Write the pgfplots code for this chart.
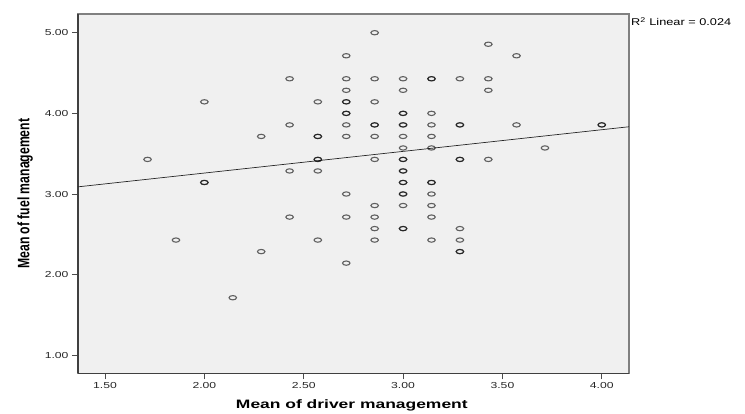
\documentclass[border=0pt]{standalone}
\usepackage{fontspec}
\setmainfont{Liberation Sans}
\newfontfamily\tickfont[FakeStretch=1.4]{Liberation Sans}
\newfontfamily\xlabfont[FakeStretch=1.43]{Liberation Sans}
\newfontfamily\ylabfont[FakeStretch=0.74]{Liberation Sans}
\newfontfamily\rfont[FakeStretch=1.3]{Liberation Sans}
\usepackage{pgfplots}
\pgfplotsset{compat=1.18}
\definecolor{bggray}{HTML}{F0F0F0}
\begin{document}
\begin{tikzpicture}
\useasboundingbox (0,0) rectangle (745pt,413pt);
\begin{axis}[
  at={(78pt,39.7pt)}, anchor=south west,
  scale only axis, width=551pt, height=359.3pt,
  xmin=1.364, xmax=4.137, ymin=0.777, ymax=5.232,
  axis background/.style={fill=bggray, draw=black!50, line width=1.4pt},
  axis x line*=bottom, axis y line*=left,
  axis line style={draw=black!75, line width=1.2pt},
  xtick={1.5,2,2.5,3,3.5,4}, ytick={1,2,3,4,5},
  minor tick num=0,
  tick align=outside, major tick length=6pt,
  tick style={draw=black!70, line width=0.9pt},
  /pgf/number format/assume math mode=true,
  xticklabel={\pgfmathprintnumber[fixed,fixed zerofill,precision=2]{\tick}},
  yticklabel={\pgfmathprintnumber[fixed,fixed zerofill,precision=2]{\tick}},
  xticklabel style={font=\tickfont\fontsize{8.7}{10}\selectfont, text=black!85},
  yticklabel style={font=\tickfont\fontsize{8.7}{10}\selectfont, text=black!85},
  xlabel={Mean of driver management},
  ylabel={Mean of fuel management},
  xlabel style={font=\xlabfont\bfseries\fontsize{12.2}{14}\selectfont, at={(axis description cs:0.497,-0.0724)}, anchor=north, inner sep=0pt},
  ylabel style={font=\ylabfont\bfseries\fontsize{16.5}{18}\selectfont, at={(axis description cs:-0.0817,0.5)}, rotate=0, anchor=south, inner sep=0pt},
  clip=false,
]
\addplot[only marks, mark=o, mark size=2.15pt, mark options={xscale=1.75, draw=black, draw opacity=0.6, line width=1.1pt}] coordinates {
(1.714,3.429)
(1.857,2.429)
(2,4.143)
(2,3.143)(2,3.143)
(2.143,1.714)
(2.286,3.714)(2.286,2.286)
(2.429,4.429)(2.429,3.857)(2.429,3.286)(2.429,2.714)
(2.571,4.143)(2.571,3.714)(2.571,3.714)(2.571,3.429)(2.571,3.429)(2.571,3.286)(2.571,2.429)
(2.714,4.714)(2.714,4.429)(2.714,4.286)(2.714,4.143)(2.714,4.143)(2.714,4)(2.714,4)(2.714,3.857)(2.714,3.714)(2.714,3)(2.714,2.714)(2.714,2.143)
(2.857,5)(2.857,4.429)(2.857,4.143)(2.857,3.857)(2.857,3.857)(2.857,3.714)(2.857,3.429)(2.857,2.857)(2.857,2.714)(2.857,2.571)(2.857,2.429)
(3,4.429)(3,4.286)(3,4)(3,4)(3,3.857)(3,3.857)(3,3.714)(3,3.571)(3,3.429)(3,3.429)(3,3.286)(3,3.286)(3,3.143)(3,3.143)(3,3)(3,3)(3,2.857)(3,2.571)(3,2.571)
(3.143,4.429)(3.143,4.429)(3.143,4)(3.143,3.857)(3.143,3.714)(3.143,3.571)(3.143,3.143)(3.143,3.143)(3.143,3)(3.143,2.857)(3.143,2.714)(3.143,2.429)
(3.286,4.429)(3.286,3.857)(3.286,3.857)(3.286,3.429)(3.286,3.429)(3.286,2.571)(3.286,2.429)(3.286,2.286)(3.286,2.286)
(3.429,4.857)(3.429,4.429)(3.429,4.286)(3.429,3.429)
(3.571,4.714)(3.571,3.857)
(3.714,3.571)
(4,3.857)(4,3.857)
};
\addplot[black!85, line width=0.7pt, mark=none] coordinates {(1.364,3.089) (4.137,3.834)};
\node[anchor=base west, inner sep=0pt, font=\rfont\fontsize{9.8}{11}\selectfont] at (axis description cs:1.0036,0.9674) {R\textsuperscript{2} Linear = 0.024};
\end{axis}
\end{tikzpicture}
\end{document}
